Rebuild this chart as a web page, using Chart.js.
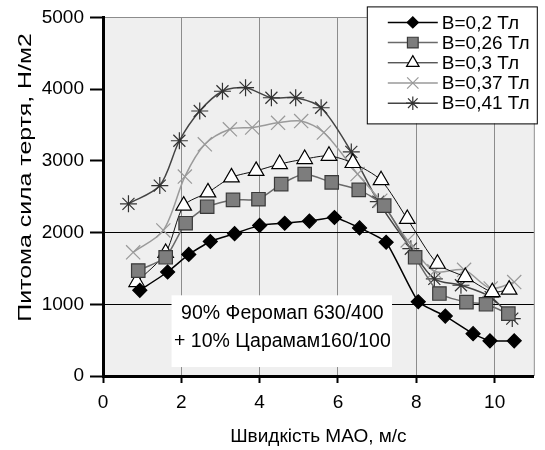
<!DOCTYPE html>
<html lang="uk">
<head>
<meta charset="utf-8">
<title>Питома сила тертя</title>
<script src="https://cdn.jsdelivr.net/npm/chart.js"></script>
<style>
  html, body { margin: 0; padding: 0; background: #fff; }
  canvas { display: block; }
</style>
</head>
<body>
<canvas id="grafico" width="545" height="450"></canvas>
<script>
const FONT = "'Liberation Sans', Arial, sans-serif";

// швидкість МАО, м/с і питома сила тертя, Н/м2 для кожного значення індукції
const speed02 = [0.94, 1.65, 2.19, 2.74, 3.36, 4.0, 4.64, 5.27, 5.91, 6.55, 7.23, 8.05, 8.74, 9.45, 9.88, 10.5];
const force02 = [1195, 1450, 1695, 1875, 1985, 2100, 2130, 2160, 2210, 2065, 1865, 1035, 835, 590, 490, 490];

const speed026 = [0.9, 1.6, 2.11, 2.66, 3.32, 3.97, 4.55, 5.15, 5.84, 6.53, 7.18, 7.97, 8.59, 9.28, 9.78, 10.35];
const force026 = [1470, 1655, 2130, 2360, 2455, 2465, 2675, 2815, 2700, 2595, 2375, 1655, 1150, 1030, 1000, 870];

const speed03 = [0.86, 1.6, 2.06, 2.68, 3.28, 3.91, 4.51, 5.15, 5.77, 6.38, 7.1, 7.77, 8.54, 9.25, 9.94, 10.37];
const force03 = [1310, 1715, 2375, 2560, 2770, 2860, 2955, 3025, 3070, 2970, 2730, 2190, 1565, 1380, 1170, 1205];

const speed037 = [0.77, 1.54, 2.09, 2.6, 3.24, 3.81, 4.47, 5.06, 5.64, 6.5, 7.08, 7.78, 8.46, 9.22, 9.9, 10.5];
const force037 = [1725, 2030, 2780, 3230, 3440, 3465, 3530, 3555, 3395, 2815, 2445, 1890, 1460, 1480, 1220, 1310];

const speed041 = [0.65, 1.45, 1.95, 2.47, 3.05, 3.64, 4.3, 4.92, 5.57, 6.34, 7.03, 7.86, 8.46, 9.14, 9.9, 10.45];
const force041 = [2400, 2655, 3280, 3695, 3970, 4020, 3880, 3880, 3740, 3125, 2430, 1775, 1355, 1265, 1100, 800];

const labels = ["B=0,2 Тл", "B=0,26 Тл", "B=0,3 Тл", "B=0,37 Тл", "B=0,41 Тл"];
const yTicks = [0, 1000, 2000, 3000, 4000, 5000];
const xTicks = [0, 2, 4, 6, 8, 10];

const series = [
  { xs: speed02, ys: force02, point: "rectRot", radius: 7, fill: "#000", edge: "#000", line: "#000", width: 1.5, tension: 0.15 },
  { xs: speed026, ys: force026, point: "rect", radius: 9.5, fill: "#7d7d7d", edge: "#3a3a3a", line: "#6a6a6a", width: 1.5, tension: 0.2 },
  { xs: speed03, ys: force03, point: "triangle", radius: 9, fill: "#fff", edge: "#000", line: "#111", width: 1, tension: 0.25 },
  { xs: speed037, ys: force037, point: "crossRot", radius: 10, fill: "#999", edge: "#999", line: "#9a9a9a", width: 1.5, tension: 0.3 },
  { xs: speed041, ys: force041, point: "star", radius: 8.5, fill: "#333", edge: "#333", line: "#444", width: 1.5, tension: 0.3 }
];

const datasets = series.map((s, i) => ({
  label: labels[i],
  data: s.xs.map((x, k) => ({ x: x, y: s.ys[k] })),
  borderColor: s.line,
  borderWidth: s.width,
  tension: s.tension,
  pointStyle: s.point,
  pointRadius: s.radius,
  pointBackgroundColor: s.fill,
  pointBorderColor: s.edge,
  pointBorderWidth: 1.2
}));

// сіре тло області побудови та права рамка
const plotBg = {
  id: "plotBg",
  beforeDraw(chart) {
    const { ctx, chartArea: a } = chart;
    ctx.save();
    ctx.fillStyle = "#efefef";
    ctx.fillRect(a.left, a.top, a.width, a.height);
    ctx.strokeStyle = "#8c8c8c";
    ctx.lineWidth = 1;
    ctx.beginPath();
    ctx.moveTo(a.right + 0.5, a.top);
    ctx.lineTo(a.right + 0.5, a.bottom);
    ctx.stroke();
    ctx.restore();
  }
};

// підпис складу суміші у білій рамці
const mixNote = {
  id: "mixNote",
  afterDatasetsDraw(chart) {
    const { ctx, scales } = chart;
    const x = scales.x, y = scales.y;
    const left = x.getPixelForValue(1.75), right = x.getPixelForValue(7.38);
    const top = y.getPixelForValue(1125), bottom = y.getPixelForValue(125);
    ctx.save();
    ctx.fillStyle = "#fff";
    ctx.fillRect(left, top, right - left, bottom - top);
    ctx.fillStyle = "#000";
    ctx.font = "19.5px " + FONT;
    ctx.textAlign = "center";
    ctx.textBaseline = "middle";
    const cx = x.getPixelForValue(4.58);
    ctx.fillText("90% Фeромап 630/400", cx, y.getPixelForValue(875));
    ctx.fillText("+ 10% Царамам160/100", cx, y.getPixelForValue(475));
    ctx.restore();
  }
};

// легенда з відрізком лінії та маркером
const boxLegend = {
  id: "boxLegend",
  afterDraw(chart) {
    const { ctx, chartArea: a } = chart;
    const left = a.right - 167, top = a.top - 11, w = 170, h = 117;
    ctx.save();
    ctx.fillStyle = "#fff";
    ctx.fillRect(left, top, w, h);
    ctx.strokeStyle = "#000";
    ctx.lineWidth = 1;
    ctx.strokeRect(left + 0.5, top + 0.5, w, h);
    ctx.font = "19px " + FONT;
    ctx.textBaseline = "middle";
    ctx.textAlign = "left";
    series.forEach((s, i) => {
      const rowY = top + 16 + i * 20.2;
      ctx.strokeStyle = s.line;
      ctx.lineWidth = s.width;
      ctx.beginPath();
      ctx.moveTo(left + 21, rowY);
      ctx.lineTo(left + 71, rowY);
      ctx.stroke();
      ctx.fillStyle = s.fill;
      ctx.strokeStyle = s.edge;
      ctx.lineWidth = 1.2;
      Chart.helpers.drawPoint(ctx, { pointStyle: s.point, radius: s.radius * 0.8, borderWidth: 1.2, rotation: 0 }, left + 46, rowY);
      ctx.fillStyle = "#000";
      ctx.fillText(labels[i], left + 75, rowY + 1);
    });
    ctx.restore();
  }
};

// підпис осі Y, розтягнутий уздовж осі
const yTitle = {
  id: "yTitle",
  afterDraw(chart) {
    const { ctx, chartArea: a } = chart;
    ctx.save();
    ctx.translate(26, a.top + 160);
    ctx.rotate(-Math.PI / 2);
    ctx.scale(1.38, 1);
    ctx.font = "18px " + FONT;
    ctx.fillStyle = "#000";
    ctx.textAlign = "center";
    ctx.textBaseline = "middle";
    ctx.fillText("Питома сила тертя, Н/м2", 0, 0);
    ctx.restore();
  }
};

new Chart(document.getElementById("grafico"), {
  type: "line",
  data: { datasets: datasets },
  plugins: [plotBg, mixNote, boxLegend, yTitle],
  options: {
    responsive: false,
    animation: false,
    layout: { padding: { top: 16, right: 9, left: 0, bottom: 0 } },
    plugins: { legend: { display: false }, tooltip: { enabled: false } },
    scales: {
      x: {
        type: "linear",
        min: 0,
        max: 11,
        afterBuildTicks: s => { s.ticks = xTicks.map(v => ({ value: v })); },
        afterFit: s => { s.height = 74; },
        ticks: { color: "#000", font: { family: FONT, size: 19 }, padding: 8, callback: v => String(v) },
        grid: {
          color: c => (c.tick && c.tick.value > 0 ? "#8c8c8c" : "transparent"),
          tickColor: "#000",
          tickLength: 7,
          tickWidth: 2,
          lineWidth: 1
        },
        border: { color: "#000", width: 3 },
        title: {
          display: true,
          text: "Швидкість МАО, м/с",
          color: "#000",
          font: { family: FONT, size: 19 },
          padding: { top: 0, bottom: 2 }
        }
      },
      y: {
        min: 0,
        max: 5000,
        afterBuildTicks: s => { s.ticks = yTicks.map(v => ({ value: v })); },
        afterFit: s => { s.width = 103; },
        ticks: { color: "#000", font: { family: FONT, size: 19 }, padding: 6, callback: v => String(v) },
        grid: {
          color: c => {
            const v = c.tick ? c.tick.value : 0;
            if (v === 1000 || v === 2000) return "#000";
            if (v === 5000) return "#8c8c8c";
            return "transparent";
          },
          tickColor: "#000",
          tickLength: 13,
          tickWidth: 2,
          lineWidth: 1
        },
        border: { color: "#000", width: 3 }
      }
    }
  }
});
</script>
</body>
</html>
